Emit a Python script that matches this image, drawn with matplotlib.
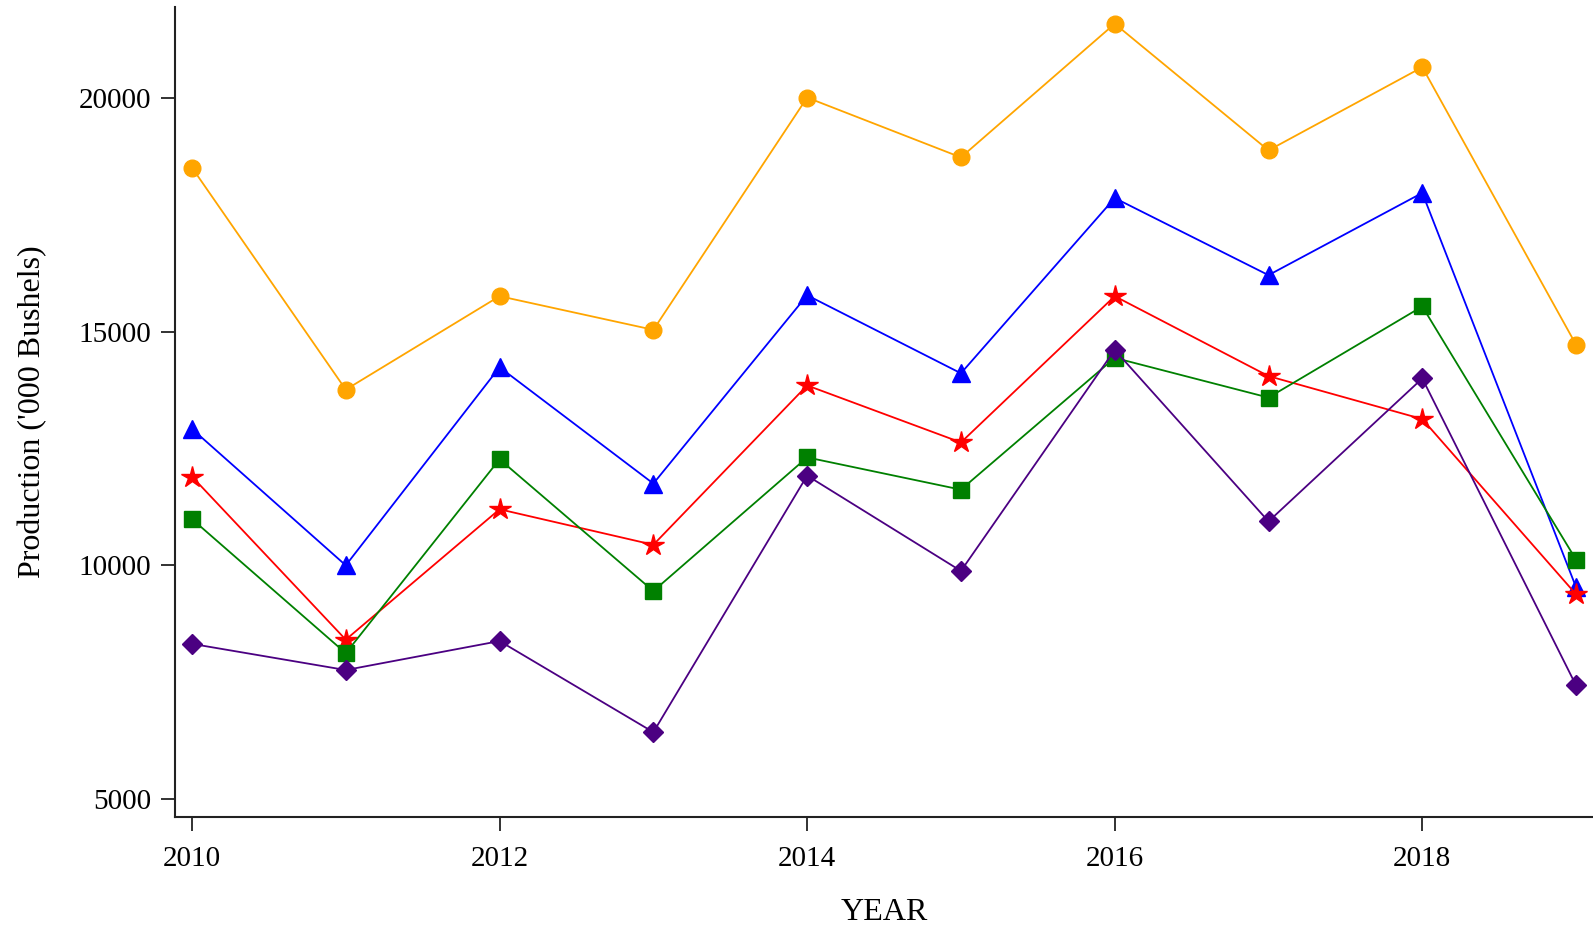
import matplotlib
matplotlib.use("Agg")
import matplotlib.pyplot as plt

years = [2010, 2011, 2012, 2013, 2014, 2015, 2016, 2017, 2018, 2019]
orange_vals = [18510, 13760, 15760, 15040, 20010, 18730, 21590, 18880, 20660, 14720]
blue_vals = [12920, 10000, 14240, 11750, 15780, 14110, 17860, 16210, 17970, 9530]
red_vals = [11900, 8410, 11200, 10440, 13850, 12630, 15760, 14050, 13130, 9380]
green_vals = [10990, 8120, 12270, 9450, 12310, 11620, 14440, 13590, 15540, 10120]
purple_vals = [8320, 7760, 8380, 6430, 11920, 9880, 14610, 10940, 14000, 7430]

plt.rcParams['font.family'] = ['Liberation Serif', 'DejaVu Serif']

fig = plt.figure(figsize=(15.93, 9.26), dpi=100)
ax = fig.add_axes([0.1099, 0.118, 0.8901, 0.8744])

lw = 1.3
ax.plot(years, orange_vals, color='#FFA500', marker='o', markersize=12, lw=lw, clip_on=False, zorder=3)
ax.plot(years, blue_vals, color='#0000FF', marker='^', markersize=13, lw=lw, clip_on=False, zorder=3)
ax.plot(years, red_vals, color='#FF0000', marker='*', markersize=16, lw=lw, clip_on=False, zorder=3)
ax.plot(years, green_vals, color='#008000', marker='s', markersize=11.5, lw=lw, clip_on=False, zorder=3)
ax.plot(years, purple_vals, color='#4B0082', marker='D', markersize=10, lw=lw, clip_on=False, zorder=3)

ax.set_xlim(2009.89, 2019.11)
ax.set_ylim(4621, 21947)
ax.set_xticks([2010, 2012, 2014, 2016, 2018])
ax.set_yticks([5000, 10000, 15000, 20000])

for s in ['top', 'right']:
    ax.spines[s].set_visible(False)
for s in ['left', 'bottom']:
    ax.spines[s].set_linewidth(1.5)
    ax.spines[s].set_color('#222222')

ax.tick_params(axis='both', direction='out', length=10, width=1.3, color='#222222',
               labelsize=21)
ax.tick_params(axis='x', pad=11)
ax.tick_params(axis='y', pad=7)

ax.set_xlabel('YEAR', fontsize=23, va='center')
ax.set_ylabel("Production ('000 Bushels)", fontsize=23, va='center')
ax.xaxis.set_label_coords(0.5, -0.118)
ax.yaxis.set_label_coords(-0.1005, 0.5)

fig.savefig('out.png', dpi=100)
